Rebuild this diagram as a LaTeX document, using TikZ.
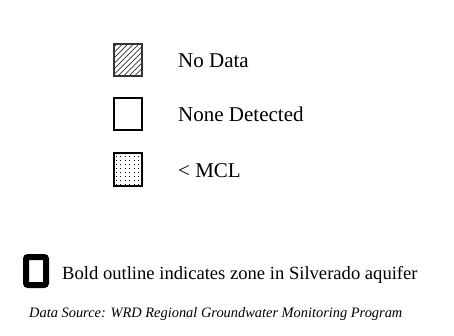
\documentclass[tikz,border=0pt]{standalone}
\usepackage{fontspec}
\setmainfont{Liberation Serif}
\begin{document}
\begin{tikzpicture}[x=1pt,y=1pt,
  legbox/.style={draw=black,line width=1.2pt},
  legtext/.style={anchor=base west,inner sep=0pt,font=\fontsize{21}{24}\selectfont},
  note/.style={anchor=base west,inner sep=0pt,font=\fontsize{18.6}{21}\selectfont},
  source/.style={anchor=base west,inner sep=0pt,font=\itshape\fontsize{14.4}{17}\selectfont}]
\useasboundingbox (0,0) rectangle (454,335);
% hatched box
\begin{scope}
\clip (114,259) rectangle (142,291);
\foreach \k in {-40,-34.5,...,40} {
  \draw[line width=0.6pt] (114+\k,259) -- ++(40,40);
}
\end{scope}
\draw[legbox,draw=black!80] (114,259) rectangle (142,291);
% empty box
\draw[legbox] (114,205) rectangle (142,237);
% dotted box
\begin{scope}
\clip (114,149) rectangle (142,182);
\foreach \i in {116.5,120.9,...,142} {
  \foreach \j in {151,155,...,182} {
    \fill (\i-0.5,\j-0.5) rectangle ++(1,1);
  }
}
\end{scope}
\draw[legbox] (114,149) rectangle (142,182);
\node[legtext] (t1) at (178,267) {No Data};
\node[legtext] (t2) at (178,213) {None Detected};
\node[legtext] (t3) at (178,158) {< MCL};
% bold outline box
\draw[line width=6pt,rounded corners=2pt] (26,50) rectangle (46,78);
\node[note] (t4) at (62,56) {Bold outline indicates zone in Silverado aquifer};
\node[source] (t5) at (29,18) {Data Source: WRD Regional Groundwater Monitoring Program};
\end{tikzpicture}
\end{document}
